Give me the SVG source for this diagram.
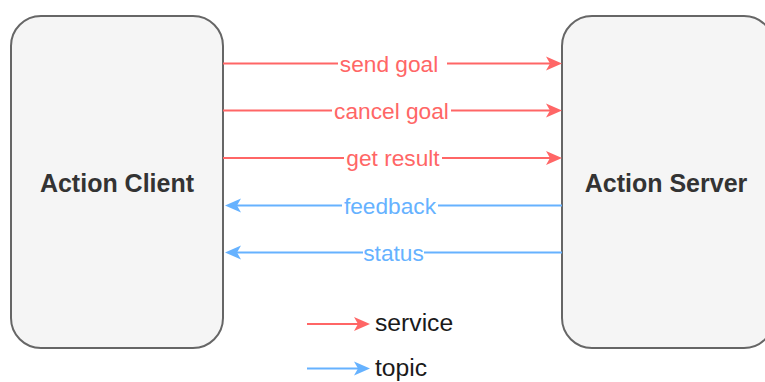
<svg xmlns="http://www.w3.org/2000/svg" width="765" height="382" viewBox="0 0 765 382">
  <style>
    .node { fill: #f5f5f5; stroke: #666666; stroke-width: 2; }
    .title { font-family: "Liberation Sans", Arial, sans-serif; font-weight: bold; font-size: 25px; fill: #333333; text-anchor: middle; }
    .svc { stroke: #ff6666; stroke-width: 2; fill: none; }
    .tpc { stroke: #66b2ff; stroke-width: 2; fill: none; }
    .lbl { font-family: "Liberation Sans", Arial, sans-serif; font-size: 22.7px; text-anchor: middle; }
    .lbl.svc-t { fill: #ff6666; }
    .lbl.tpc-t { fill: #66b2ff; }
    .bg { fill: #ffffff; }
    .legend { font-family: "Liberation Sans", Arial, sans-serif; font-size: 24.7px; fill: #1a1a1a; }
  </style>
  <defs>
    <marker id="headSvc" markerUnits="userSpaceOnUse" viewBox="-17 -8 18 16" refX="-10" refY="0" markerWidth="18" markerHeight="16" orient="auto">
      <path d="M0,0 L-16,-7 L-12,0 L-16,7 Z" fill="#ff6666"/>
    </marker>
    <marker id="headTpc" markerUnits="userSpaceOnUse" viewBox="-17 -8 18 16" refX="-10" refY="0" markerWidth="18" markerHeight="16" orient="auto">
      <path d="M0,0 L-16,-7 L-12,0 L-16,7 Z" fill="#66b2ff"/>
    </marker>
  </defs>

  <rect width="765" height="382" fill="#ffffff"/>

  <g id="action-client">
    <rect class="node" x="11" y="16" width="212" height="332" rx="30" ry="30"/>
    <text class="title" x="117" y="191.5">Action Client</text>
  </g>

  <g id="action-server">
    <rect class="node" x="562" y="16" width="212" height="332" rx="30" ry="30"/>
    <text class="title" x="666" y="191.5">Action Server</text>
  </g>

  <g id="connectors">
    <g id="send-goal">
      <line class="svc" x1="223" y1="63.5" x2="552" y2="63.5" marker-end="url(#headSvc)"/>
      <rect class="bg" x="338" y="52" width="109" height="24"/>
      <text class="lbl svc-t" x="389" y="71.5">send goal</text>
    </g>
    <g id="cancel-goal">
      <line class="svc" x1="223" y1="110.5" x2="552" y2="110.5" marker-end="url(#headSvc)"/>
      <rect class="bg" x="332" y="99" width="119" height="24"/>
      <text class="lbl svc-t" x="391.5" y="118.5">cancel goal</text>
    </g>
    <g id="get-result">
      <line class="svc" x1="223" y1="158" x2="552" y2="158" marker-end="url(#headSvc)"/>
      <rect class="bg" x="344" y="146" width="98" height="24"/>
      <text class="lbl svc-t" x="393" y="166">get result</text>
    </g>
    <g id="feedback">
      <line class="tpc" x1="562" y1="205.5" x2="235" y2="205.5" marker-end="url(#headTpc)"/>
      <rect class="bg" x="342" y="194" width="96" height="24"/>
      <text class="lbl tpc-t" x="390" y="213.5">feedback</text>
    </g>
    <g id="status">
      <line class="tpc" x1="562" y1="252.5" x2="235" y2="252.5" marker-end="url(#headTpc)"/>
      <rect class="bg" x="363" y="241" width="61" height="24"/>
      <text class="lbl tpc-t" x="393.5" y="260.5">status</text>
    </g>
  </g>

  <g id="legend">
    <line class="svc" x1="307" y1="324" x2="360" y2="324" marker-end="url(#headSvc)"/>
    <text class="legend" x="375" y="331">service</text>
    <line class="tpc" x1="307" y1="368.5" x2="360" y2="368.5" marker-end="url(#headTpc)"/>
    <text class="legend" x="375" y="375.5">topic</text>
  </g>
</svg>
